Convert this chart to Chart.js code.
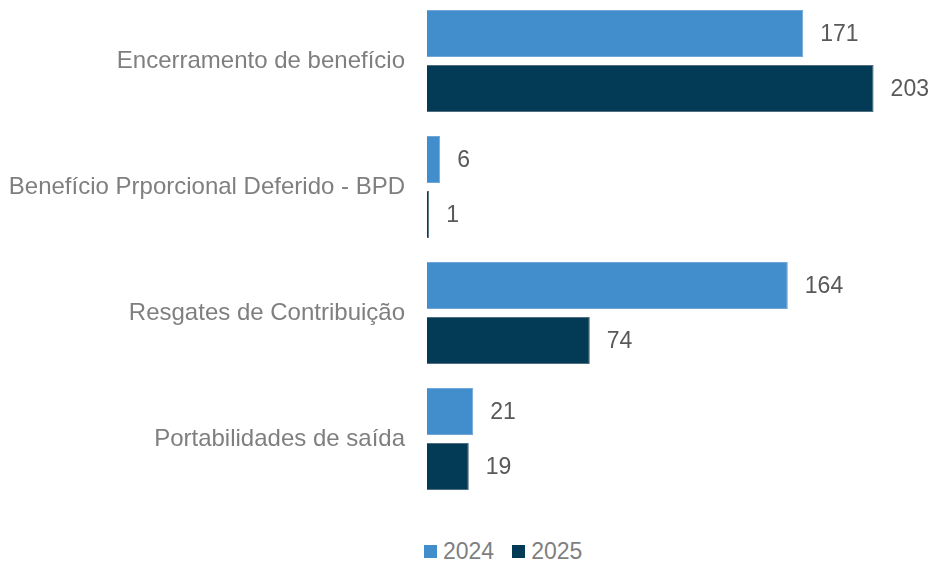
<!DOCTYPE html>
<html>
<head>
<meta charset="utf-8">
<script src="https://cdn.jsdelivr.net/npm/chart.js@4.4.1/dist/chart.umd.min.js"></script>
<style>
  html, body { margin: 0; padding: 0; background: #fff; }
  #wrap { position: relative; width: 933px; height: 565px; overflow: hidden; }
  #chart-box { position: absolute; left: 0; top: -2px; width: 933px; height: 504px; }
  #legend { position: absolute; left: 424px; top: 538px; display: flex; font-family: 'Liberation Sans', Arial, sans-serif; font-size: 23px; color: #7f7f7f; }
  #legend .item { display: flex; align-items: center; margin-right: 18px; }
  #legend .box { width: 13px; height: 13px; margin-right: 6px; }
</style>
</head>
<body>
<div id="wrap">
  <div id="chart-box"><canvas id="c"></canvas></div>
  <div id="legend"></div>
</div>
<script>
// Data
const categories = [
  'Encerramento de benefício',
  'Benefício Prporcional Deferido - BPD',
  'Resgates de Contribuição',
  'Portabilidades de saída'
];
const seriesLabels = ['2024', '2025'];
const values2024 = [171, 6, 164, 21];
const values2025 = [203, 1, 74, 19];

const COLOR_2024 = '#428dcb';
const COLOR_2025 = '#033a56';
const LABEL_GREY = '#7f7f7f';
const VALUE_GREY = '#595959';
const FONT = "'Liberation Sans', Arial, sans-serif";

// Value labels to the right of each bar
const valueLabels = {
  id: 'valueLabels',
  afterDatasetsDraw(chart) {
    const ctx = chart.ctx;
    ctx.save();
    ctx.fillStyle = VALUE_GREY;
    ctx.font = '23px ' + FONT;
    ctx.textAlign = 'left';
    ctx.textBaseline = 'middle';
    chart.data.datasets.forEach((ds, i) => {
      chart.getDatasetMeta(i).data.forEach((bar, j) => {
        ctx.fillText(ds.data[j], bar.x + 17, bar.y + 1);
      });
    });
    ctx.restore();
  }
};

const chart = new Chart(document.getElementById('c'), {
  type: 'bar',
  data: {
    labels: categories,
    datasets: [
      { label: seriesLabels[0], data: values2024, backgroundColor: COLOR_2024, borderColor: '#6ea7d8', borderWidth: 1 },
      { label: seriesLabels[1], data: values2025, backgroundColor: COLOR_2025, borderColor: '#4f6f80', borderWidth: 1 }
    ]
  },
  options: {
    indexAxis: 'y',
    responsive: true,
    maintainAspectRatio: false,
    animation: false,
    layout: { padding: { left: 0, right: 22, top: 0, bottom: 0 } },
    datasets: { bar: { categoryPercentage: 0.873, barPercentage: 0.855 } },
    plugins: {
      legend: { display: false },
      tooltip: { enabled: false }
    },
    scales: {
      x: { display: false, min: 0, max: 220 },
      y: {
        grid: { display: false, drawTicks: false },
        border: { display: false },
        ticks: { color: LABEL_GREY, font: { family: FONT, size: 24 }, padding: 22 },
        afterFit(scale) {
          scale.width = 427;
          scale.paddingTop = 0;
          scale.paddingBottom = 0;
        }
      }
    }
  },
  plugins: [valueLabels]
});

// HTML legend
const legendEl = document.getElementById('legend');
chart.data.datasets.forEach(ds => {
  const item = document.createElement('div');
  item.className = 'item';
  const box = document.createElement('span');
  box.className = 'box';
  box.style.background = ds.backgroundColor;
  const txt = document.createElement('span');
  txt.textContent = ds.label;
  item.appendChild(box);
  item.appendChild(txt);
  legendEl.appendChild(item);
});
</script>
</body>
</html>
